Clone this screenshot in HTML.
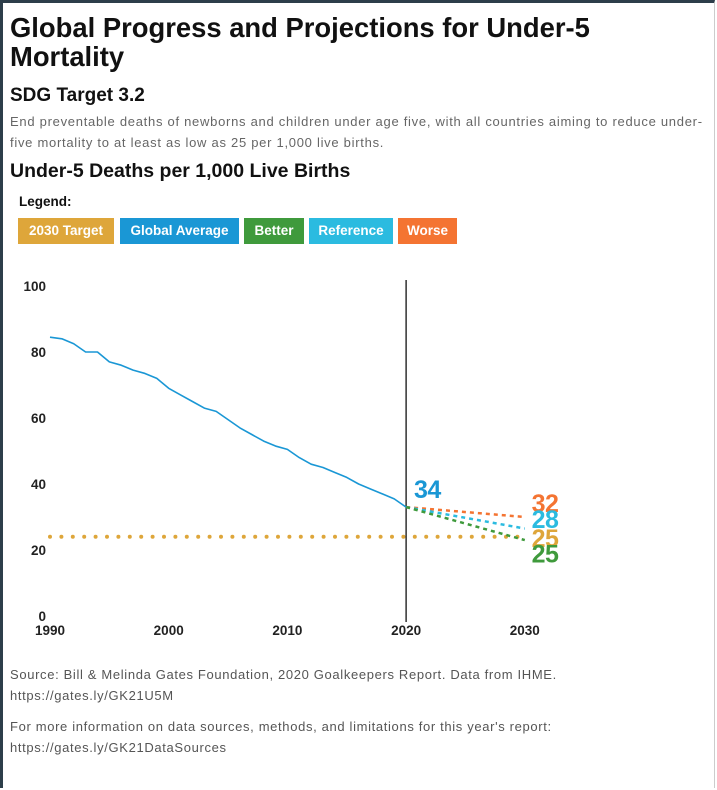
<!DOCTYPE html>
<html><head><meta charset="utf-8">
<style>
html,body{margin:0;padding:0;}
body{width:717px;height:790px;background:#fff;position:relative;overflow:hidden;font-family:"Liberation Sans",sans-serif;color:#111;}
.frame{position:absolute;left:0;top:0;width:715px;height:788px;border-left:3px solid #2d3e4a;border-top:3px solid #2d3e4a;border-right:1px solid #ccc;box-sizing:border-box;}
h1{position:absolute;left:10px;top:13px;margin:0;font-size:27.4px;line-height:29px;font-weight:bold;width:700px;white-space:nowrap;}
h2{position:absolute;left:10px;top:85px;margin:0;font-size:19px;font-weight:bold;}
.desc{position:absolute;left:10px;top:111px;width:705px;font-size:13px;line-height:21px;color:#666;letter-spacing:0.72px;white-space:nowrap;}
h3{position:absolute;left:10px;top:160px;margin:0;font-size:19.5px;font-weight:bold;}
.lg{position:absolute;left:19px;top:194px;font-size:13.5px;font-weight:bold;}
.chip{position:absolute;top:218px;height:26px;line-height:26px;color:#fff;font-size:13.5px;font-weight:bold;text-align:center;white-space:nowrap;}
.src{position:absolute;left:10px;font-size:13px;line-height:21px;color:#555;letter-spacing:0.65px;white-space:nowrap;}
</style></head><body>
<div class="frame"></div>
<h1>Global Progress and Projections for Under-5<br>Mortality</h1>
<h2>SDG Target 3.2</h2>
<div class="desc">End preventable deaths of newborns and children under age five, with all countries aiming to reduce under-<br>five mortality to at least as low as 25 per 1,000 live births.</div>
<h3>Under-5 Deaths per 1,000 Live Births</h3>
<div class="lg">Legend:</div>
<div class="chip" style="left:18px;width:96px;background:#dea63a">2030 Target</div>
<div class="chip" style="left:120px;width:119px;background:#1a97d5">Global Average</div>
<div class="chip" style="left:244px;width:60px;background:#3f9a3c">Better</div>
<div class="chip" style="left:309px;width:84px;background:#2bbbe0">Reference</div>
<div class="chip" style="left:398px;width:59px;background:#f47432">Worse</div>
<svg id="chart" width="717" height="790" style="position:absolute;left:0;top:0"></svg>
<div class="src" style="top:664px">Source: Bill &amp; Melinda Gates Foundation, 2020 Goalkeepers Report. Data from IHME.<br>https://gates.ly/GK21U5M</div>
<div class="src" style="top:716px">For more information on data sources, methods, and limitations for this year's report:<br>https://gates.ly/GK21DataSources</div>
<script>
const years=[1990,1991,1992,1993,1994,1995,1996,1997,1998,1999,2000,2001,2002,2003,2004,2005,2006,2007,2008,2009,2010,2011,2012,2013,2014,2015,2016,2017,2018,2019,2020];
const avg=[84.5,84,82.5,80,80,77,76,74.5,73.5,72,69,67,65,63,62,59.5,57,55,53,51.5,50.5,48,46,45,43.5,42,40,38.5,37,35.5,33];
const yTicks=[0,20,40,60,80,100];
const xTicks=[1990,2000,2010,2020,2030];
const target=24;
const projNames=['worse','reference','better'];
const projEnd=[30,26.5,23];
const projColors=['#f47432','#2bbbe0','#3f9a3c'];
const endLabels=['32','28','25','25'];
const endLabelColors=['#f47432','#2bbbe0','#dea63a','#3f9a3c'];
const endLabelVals=[34.2,29.4,23.6,19];
const ns='http://www.w3.org/2000/svg';
const svg=document.getElementById('chart');
const X=y=>50+(y-1990)*11.87;
const Y=v=>616-v*3.3;
function mk(t,a){const e=document.createElementNS(ns,t);for(const k in a)e.setAttribute(k,a[k]);svg.appendChild(e);return e;}
yTicks.forEach(v=>{const t=mk('text',{x:46,y:Y(v)+5,'text-anchor':'end','font-size':13.5,'font-weight':'bold',fill:'#222','font-family':'Liberation Sans, sans-serif'});t.textContent=v;

});
xTicks.forEach(v=>{const t=mk('text',{x:X(v),y:635,'text-anchor':'middle','font-size':13.5,'font-weight':'bold',fill:'#222','font-family':'Liberation Sans, sans-serif'});t.textContent=v;

});
const tl=mk('line',{x1:X(1990),x2:X(2030),y1:Y(target),y2:Y(target),stroke:'#dea63a','stroke-width':4,'stroke-dasharray':'0 11.4','stroke-linecap':'round'});


const vl=mk('line',{x1:X(2020),x2:X(2020),y1:280,y2:622,stroke:'#111','stroke-width':1.3});


projNames.forEach((n,i)=>{const l=mk('line',{x1:X(2020),y1:Y(avg[avg.length-1]),x2:X(2030),y2:Y(projEnd[i]),stroke:projColors[i],'stroke-width':2.5,'stroke-dasharray':'4 4'});

});
const p=mk('polyline',{points:years.map((y,i)=>X(y)+','+Y(avg[i])).join(' '),fill:'none',stroke:'#1a97d5','stroke-width':1.6,'stroke-linejoin':'round'});


const cl=mk('text',{x:414,y:498,'font-size':25,'font-weight':'bold',fill:'#1a97d5','font-family':'Liberation Sans, sans-serif','letter-spacing':'-0.5'});cl.textContent=avg[avg.length-1]+1;


endLabels.forEach((s,i)=>{const t=mk('text',{x:545,y:Y(endLabelVals[i])+9,'text-anchor':'middle','font-size':25,'font-weight':'bold',fill:endLabelColors[i],'font-family':'Liberation Sans, sans-serif','letter-spacing':'-0.5'});t.textContent=s;

});
</script>
</body></html>
